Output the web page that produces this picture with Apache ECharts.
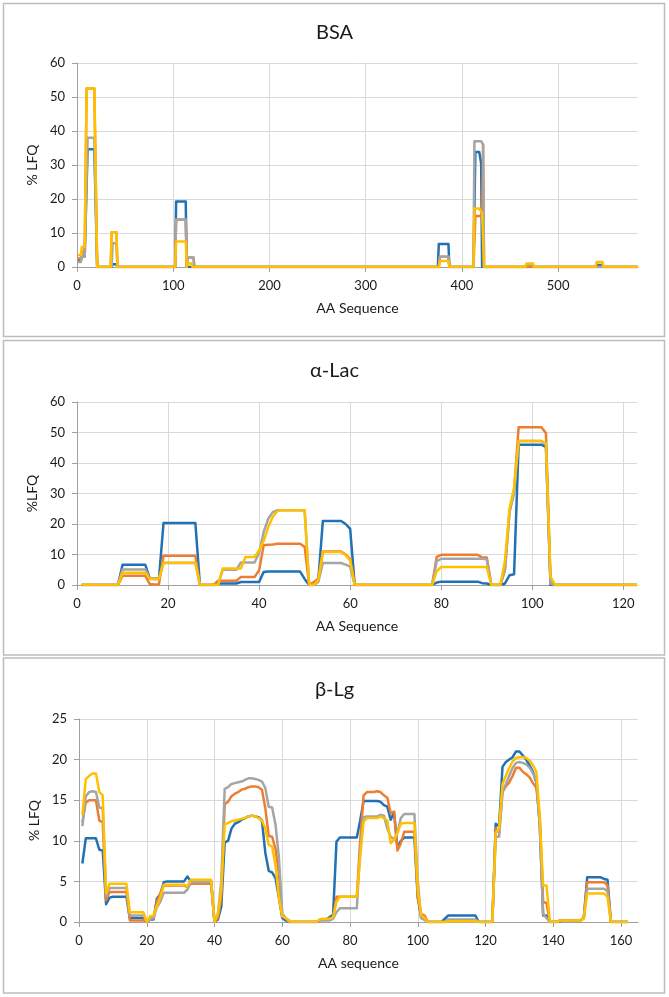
<!DOCTYPE html>
<html>
<head>
<meta charset="utf-8">
<script src="https://cdn.jsdelivr.net/npm/echarts@6.0.0/dist/echarts.min.js"></script>
<style>
  html, body { margin: 0; padding: 0; background: #fff; }
  #chart { width: 669px; height: 997px; }
</style>
</head>
<body>
<div id="chart"></div>
<script>
"use strict";

// series names / colours (blue, orange, grey, gold)
const seriesNames = ['S1', 'S2', 'S3', 'S4'];
const seriesColors = ['#2171b5', '#ed7d31', '#a5a5a5', '#ffc000'];

// ---- BSA : [residue, %LFQ] ----
const bsaBlue = [[1,1.9],[4,1.9],[5,3],[8,3],[11,34.6],[18,34.6],[21,0],[36,0],[37,0.8],[41,0.8],[42,0],
  [102,0],[103,19.3],[113,19.3],[114,0],[375,0],[376,6.8],[386,6.8],[387,0],[412,0],[414,33.8],[418,33.8],
  [420,30.5],[421,0],[540,0],[541,0.6],[545,0.6],[546,0],[583,0]];
const bsaOrange = [[1,2.5],[4,2.5],[5,4.5],[8,4.5],[10,52.5],[18,52.5],[21,0],[35,0],[36,10.2],[41,10.2],[42,0],
  [102,0],[103,14],[113,14],[114,0],[115,2.8],[121,2.8],[122,0],[376,0],[377,3],[386,3],[387,0],[412,0],
  [414,15],[421,15],[422,36],[423,0],[583,0]];
const bsaGrey = [[1,1.5],[4,1.5],[5,3],[8,3],[11,38],[18,38],[21,0],[36,0],[37,7],[41,7],[42,0],
  [102,0],[103,14],[113,14],[114,0],[115,2.8],[121,2.8],[122,0],[376,0],[377,3],[386,3],[387,0],[412,0],
  [413,37],[420,37],[422,36],[423,0],[466,0],[467,0.6],[474,0.6],[475,0],[583,0]];
const bsaYellow = [[1,3.5],[4,3.5],[5,5.9],[8,5.9],[10,52.5],[18,52.5],[21,0],[35,0],[36,10.2],[41,10.2],[42,0],
  [102,0],[103,7.5],[113,7.5],[114,0],[115,1],[119,1],[120,0],[376,0],[377,1.8],[386,1.8],[387,0],[412,0],
  [413,17.2],[418,17.2],[421,15.8],[423,0],[466,0],[467,1],[474,1],[475,0],[539,0],[540,1.5],[546,1.5],
  [547,0],[583,0]];
const bsaXMax = 583;
const bsaXTicks = [0, 100, 200, 300, 400, 500];

// ---- alpha-Lac : %LFQ per residue 1..123 ----
const lacBlue = [
  0,0,0,0,0,0,0,0,0,6.6,
  6.6,6.6,6.6,6.6,6.6,2.2,2.0,2.0,20.3,20.3,
  20.3,20.3,20.3,20.3,20.3,20.3,0,0,0,0,
  0.5,0.5,0.5,0.5,0.5,1.0,1.0,1.0,1.0,1.0,
  4.3,4.4,4.4,4.4,4.4,4.4,4.4,4.4,4.4,2.0,
  0,0,1.5,21.0,21.0,21.0,21.0,21.0,20.0,18.4,
  0,0,0,0,0,0,0,0,0,0,
  0,0,0,0,0,0,0,0,0.8,1.1,
  1.1,1.1,1.1,1.1,1.1,1.1,1.1,1.1,0.6,0.5,
  0,0,0,0.5,3.2,3.5,46.0,46.0,46.0,46.0,
  46.0,46.0,45.2,0,0,0,0,0,0,0,
  0,0,0,0,0,0,0,0,0,0,
  0,0,0];
const lacOrange = [
  0,0,0,0,0,0,0,0,0,3.0,
  3.0,3.0,3.0,3.0,3.0,0.3,0.2,0.2,9.6,9.6,
  9.6,9.6,9.6,9.6,9.6,9.6,0,0,0,0,
  1.4,1.4,1.4,1.4,1.4,2.6,2.6,2.6,2.6,4.8,
  13.0,13.2,13.3,13.5,13.5,13.5,13.5,13.5,13.5,12.5,
  0,1.0,2.0,11.0,11.0,11.0,11.0,11.0,10.0,8.5,
  0,0,0,0,0,0,0,0,0,0,
  0,0,0,0,0,0,0,0,9.2,9.9,
  9.9,9.9,9.9,9.9,9.9,9.9,9.9,9.9,9.0,9.0,
  0,0,0,5.0,24.0,31.0,51.7,51.7,51.7,51.7,
  51.7,51.7,49.8,1.5,0,0,0,0,0,0,
  0,0,0,0,0,0,0,0,0,0,
  0,0,0];
const lacGrey = [
  0,0,0,0,0,0,0,0,0,5.1,
  5.1,5.1,5.1,5.1,5.1,2.2,2.2,2.2,7.2,7.2,
  7.2,7.2,7.2,7.2,7.2,7.2,0,0,0,0,
  0,5.0,5.0,5.0,5.0,7.4,7.4,7.4,7.4,10.5,
  17.4,21.7,23.9,24.5,24.5,24.5,24.5,24.5,24.5,24.4,
  0,0,1.0,7.2,7.2,7.2,7.2,7.2,6.7,6.0,
  0,0,0,0,0,0,0,0,0,0,
  0,0,0,0,0,0,0,0,7.8,8.6,
  8.6,8.6,8.6,8.6,8.6,8.6,8.6,8.6,8.6,8.4,
  0,0,0,5.0,24.0,30.0,47.2,47.2,47.2,47.2,
  47.2,47.2,46.0,0.5,0,0,0,0,0,0,
  0,0,0,0,0,0,0,0,0,0,
  0,0,0];
const lacYellow = [
  0,0,0,0,0,0,0,0,0,4.0,
  4.0,4.0,4.0,4.0,4.0,2.0,2.0,2.0,7.3,7.3,
  7.3,7.3,7.3,7.3,7.3,7.3,0,0,0,0,
  0,5.4,5.4,5.4,5.4,5.4,9.2,9.2,9.2,11.4,
  14.5,19.0,22.3,24.3,24.5,24.5,24.5,24.5,24.5,24.5,
  0,0,1.5,10.8,10.8,10.8,10.8,10.8,9.8,8.0,
  0,0,0,0,0,0,0,0,0,0,
  0,0,0,0,0,0,0,0,4.5,5.9,
  5.9,5.9,5.9,5.9,5.9,5.9,5.9,5.9,5.9,5.9,
  0,0,0,8.0,25.0,32.0,47.2,47.2,47.2,47.2,
  47.2,47.2,46.5,2.7,0,0,0,0,0,0,
  0,0,0,0,0,0,0,0,0,0,
  0,0,0];
const lacXMax = 123;
const lacXTicks = [0, 20, 40, 60, 80, 100, 120];

// ---- beta-Lg : %LFQ per residue 1..162 ----
const lgBlue = [
  7.2,10.3,10.3,10.3,10.3,8.9,8.8,2.2,3.0,3.1,
  3.1,3.1,3.1,3.1,0.5,0.5,0.5,0.5,0.5,0,
  0.3,0.3,2.9,3.4,4.9,5.0,5.0,5.0,5.0,5.0,
  5.0,5.6,5.0,5.0,5.0,5.0,5.0,5.0,5.0,0,
  0.3,1.9,9.8,10.0,11.5,12.1,12.3,12.6,12.8,13.0,
  13.1,13.0,12.9,12.5,8.5,6.3,6.1,5.4,3.0,0.5,
  0.2,0,0,0,0,0,0,0,0,0,
  0.2,0.3,0.3,0.6,0.9,9.9,10.4,10.4,10.4,10.4,
  10.4,10.4,12.5,14.9,14.9,14.9,14.9,14.9,14.8,14.4,
  14.2,12.6,13.5,9.1,10.0,10.4,10.4,10.4,10.4,3.0,
  0.5,0.3,0,0,0,0,0,0.4,0.8,0.8,
  0.8,0.8,0.8,0.8,0.8,0.8,0.8,0,0,0,
  0,0,12.1,11.8,19.1,19.7,20.0,20.3,21.0,21.0,
  20.5,20.0,19.3,18.5,17.2,12.0,0.8,0.8,0,0,
  0,0.1,0.2,0.2,0.2,0.2,0.2,0.2,0.5,5.5,
  5.5,5.5,5.5,5.5,5.3,5.2,0,0,0,0,
  0,0];
const lgOrange = [
  12.3,14.7,15.0,15.0,15.0,12.5,12.3,2.7,3.7,3.7,
  3.7,3.7,3.7,3.7,0.2,0.2,0.2,0.2,0.2,0,
  0.5,0.5,2.5,3.5,4.5,4.5,4.5,4.5,4.5,4.5,
  4.5,4.3,4.7,4.7,4.7,4.7,4.7,4.7,4.7,0,
  0.5,3.0,14.5,14.8,15.5,15.8,16.0,16.3,16.4,16.6,
  16.7,16.7,16.6,16.3,14.0,10.6,10.5,9.0,6.0,0.7,
  0.5,0,0,0,0,0,0,0,0,0,
  0.2,0.3,0.3,0.3,0.5,3.1,3.1,3.1,3.1,3.1,
  3.1,3.1,10.0,15.6,16.0,16.0,16.0,16.1,16.0,15.6,
  15.3,13.4,13.6,8.8,9.7,11.1,11.1,11.1,11.1,3.0,
  1.0,0.8,0,0,0,0,0,0,0.2,0.2,
  0.2,0.2,0.2,0.2,0.2,0.2,0.2,0,0,0,
  0,0,11.5,11.0,16.0,16.7,17.2,18.0,19.0,19.0,
  18.5,18.2,17.8,17.1,16.5,13.0,2.5,2.3,0,0,
  0,0.2,0.2,0.2,0.2,0.2,0.2,0.2,0.5,4.9,
  4.9,4.9,4.9,4.9,4.9,4.5,0,0,0,0,
  0,0];
const lgGrey = [
  11.8,15.5,16.0,16.1,16.0,14.1,14.0,3.2,4.2,4.2,
  4.2,4.2,4.2,4.2,0.8,0.8,0.8,0.8,0.8,0,
  0.3,0.5,1.8,2.5,3.6,3.6,3.6,3.6,3.6,3.6,
  3.6,4.0,4.9,4.9,4.9,4.9,4.9,4.9,4.9,0,
  1.0,5.0,16.4,16.6,17.0,17.1,17.2,17.3,17.5,17.7,
  17.7,17.6,17.5,17.3,16.5,14.2,14.1,12.0,8.0,1.0,
  0.5,0,0,0,0,0,0,0,0,0,
  0.2,0.2,0.2,0.2,0.4,1.2,1.7,1.7,1.7,1.7,
  1.7,1.7,9.0,12.9,13.0,13.0,13.0,13.0,13.2,13.1,
  11.5,10.5,10.2,11.0,12.8,13.3,13.3,13.3,13.3,5.0,
  0.5,0.3,0,0,0,0,0,0,0.3,0.3,
  0.3,0.3,0.3,0.3,0.3,0.3,0.3,0,0,0,
  0,0,10.5,10.5,16.0,17.0,18.0,19.0,19.6,19.7,
  19.6,19.4,19.0,18.3,17.5,12.0,1.0,0.5,0,0,
  0,0.2,0.2,0.2,0.2,0.2,0.2,0.2,0.5,4.1,
  4.1,4.1,4.1,4.1,4.1,3.8,0,0,0,0,
  0,0];
const lgYellow = [
  13.2,17.6,18.0,18.3,18.3,16.0,15.6,3.5,4.7,4.7,
  4.7,4.7,4.7,4.7,1.2,1.2,1.2,1.2,1.2,0,
  0.7,0.8,2.0,3.0,4.6,4.6,4.6,4.6,4.6,4.6,
  4.6,4.4,5.2,5.2,5.2,5.2,5.2,5.2,5.2,0,
  1.0,4.0,12.0,12.2,12.4,12.5,12.6,12.7,12.8,13.0,
  13.1,13.0,12.8,12.5,11.5,9.5,9.3,7.0,3.0,0.7,
  0.5,0.2,0,0,0,0,0,0,0,0,
  0.3,0.4,0.4,0.4,0.6,2.5,3.1,3.1,3.1,3.1,
  3.1,3.1,8.0,12.4,12.8,12.8,12.8,12.8,13.0,12.8,
  12.5,9.7,10.1,11.0,12.1,12.2,12.2,12.2,12.2,4.0,
  0.8,0.5,0,0,0,0,0,0,0.1,0.1,
  0.1,0.1,0.1,0.1,0.1,0.1,0.1,0,0,0,
  0,0,11.0,11.5,17.0,18.0,19.0,19.8,20.2,20.3,
  20.3,20.2,19.9,19.3,18.5,13.0,4.5,4.5,0,0,
  0,0.2,0.2,0.2,0.2,0.2,0.2,0.2,0.4,3.5,
  3.5,3.5,3.5,3.5,3.5,3.1,0,0,0,0,
  0,0];
const lgXMax = 165;
const lgXTicks = [0, 20, 40, 60, 80, 100, 120, 140, 160];

const FONT = 'Lato, "Open Sans", sans-serif';

// residue arrays -> [residue, value]
function byResidue(arr) {
  return arr.map(function (v, i) { return [i + 1, v]; });
}

var panels = [
  { title: 'BSA', titleTop: 18, yName: '% LFQ', xName: 'AA Sequence',
    grid: { left: 77, top: 63, width: 561, height: 204 },
    xMax: bsaXMax, xInterval: 100, xTicks: bsaXTicks, yMax: 60, yInterval: 10,
    data: [bsaBlue, bsaOrange, bsaGrey, bsaYellow] },
  { title: 'α-Lac', titleTop: 356, yName: '%LFQ', xName: 'AA Sequence',
    grid: { left: 77, top: 402, width: 560, height: 183 },
    xMax: lacXMax, xInterval: 20, xTicks: lacXTicks, yMax: 60, yInterval: 10,
    data: [lacBlue, lacOrange, lacGrey, lacYellow].map(byResidue) },
  { title: 'β-Lg', titleTop: 675, yName: '% LFQ', xName: 'AA sequence',
    grid: { left: 79, top: 719, width: 559, height: 203 },
    xMax: lgXMax, xInterval: 20, xTicks: lgXTicks, yMax: 25, yInterval: 5,
    data: [lgBlue, lgOrange, lgGrey, lgYellow].map(byResidue) }
];

var chart = echarts.init(document.getElementById('chart'), null, { renderer: 'canvas' });

var option = {
  animation: false,
  backgroundColor: '#fff',
  textStyle: { fontFamily: FONT },
  title: [],
  grid: [],
  xAxis: [],
  yAxis: [],
  series: [],
  graphic: [
    { type: 'rect', shape: { x: 3.5, y: 3.5, width: 661, height: 333 },
      style: { fill: 'none', stroke: '#bdbdbd', lineWidth: 1.5 }, silent: true },
    { type: 'rect', shape: { x: 3.5, y: 340.5, width: 661, height: 314.5 },
      style: { fill: 'none', stroke: '#bdbdbd', lineWidth: 1.5 }, silent: true },
    { type: 'rect', shape: { x: 3.5, y: 658, width: 661, height: 335 },
      style: { fill: 'none', stroke: '#bdbdbd', lineWidth: 1.5 }, silent: true }
  ]
};

panels.forEach(function (p, k) {
  option.title.push({
    text: p.title, left: 'center', top: p.titleTop,
    textStyle: { fontFamily: FONT, fontSize: 20, fontWeight: 'normal', color: '#1a1a1a' }
  });
  option.grid.push(p.grid);
  option.xAxis.push({
    gridIndex: k, type: 'value', min: 0, max: p.xMax, interval: p.xInterval,
    name: p.xName, nameLocation: 'middle', nameGap: 34,
    nameTextStyle: { fontFamily: FONT, fontSize: 14, color: '#1a1a1a' },
    axisLine: { show: true, onZero: false, lineStyle: { color: '#a0a0a0', width: 1 } },
    axisTick: { show: true, length: 5, customValues: p.xTicks, lineStyle: { color: '#a0a0a0' } },
    axisLabel: { customValues: p.xTicks, margin: 12,
      fontFamily: FONT, fontSize: 13, color: '#1a1a1a' },
    splitLine: { show: true, lineStyle: { color: '#d9d9d9', width: 1 } }
  });
  option.yAxis.push({
    gridIndex: k, type: 'value', min: 0, max: p.yMax, interval: p.yInterval,
    name: p.yName, nameLocation: 'middle', nameGap: 35,
    nameTextStyle: { fontFamily: FONT, fontSize: 14, color: '#1a1a1a' },
    axisLine: { show: true, lineStyle: { color: '#a0a0a0', width: 1 } },
    axisTick: { show: true, length: 5, lineStyle: { color: '#a0a0a0' } },
    axisLabel: { margin: 12, fontFamily: FONT, fontSize: 13, color: '#1a1a1a' },
    splitLine: { show: true, lineStyle: { color: '#d9d9d9', width: 1 } }
  });
  p.data.forEach(function (d, s) {
    option.series.push({
      name: seriesNames[s], type: 'line', xAxisIndex: k, yAxisIndex: k,
      data: d, showSymbol: false, symbol: 'none', smooth: false,
      color: seriesColors[s],
      lineStyle: { color: seriesColors[s], width: 2.5, join: 'round' }
    });
  });
});

chart.setOption(option);
</script>
</body>
</html>
